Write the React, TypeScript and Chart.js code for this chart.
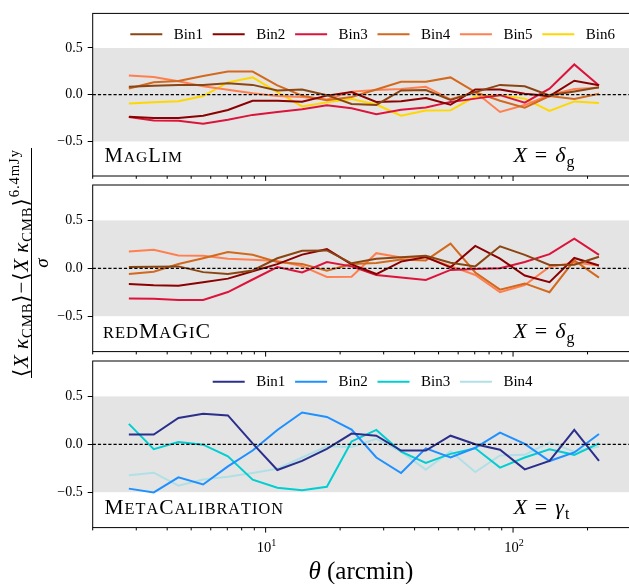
import React, { useEffect, useRef } from "react";
import { Chart, registerables } from "chart.js";

Chart.register(...registerables);

// ---------------- data ----------------
const THETA = [2.8, 3.53, 4.44, 5.59, 7.04, 8.86, 11.15, 14.04, 17.68, 22.25, 28.01, 35.27, 44.4, 55.89, 70.36, 88.58, 111.5, 140.4, 176.8, 222.5];

const X_TICKS = [2, 3, 4, 5, 6, 7, 8, 9, 10, 20, 30, 40, 50, 60, 70, 80, 90, 100, 200, 300];
const X_MAJOR = [10, 100];
const X_LABELS = [
  { value: 10, base: "10", exp: "1" },
  { value: 100, base: "10", exp: "2" },
];
const Y_TICKS = [-0.5, 0, 0.5];
const BAND = [-0.5, 0.5];

const MAGLIM_LABELS = ["Bin1", "Bin2", "Bin3", "Bin4", "Bin5", "Bin6"];
const MAGLIM_COLORS = ["#8B4513", "#8B0000", "#DC143C", "#D2691E", "#FF7F50", "#FFD700"];
const MAGLIM_BIN1 = [0.085, 0.095, 0.105, 0.105, 0.122, 0.105, 0.045, 0.056, -0.005, -0.1, -0.11, 0.045, 0.05, -0.055, 0.028, 0.105, 0.09, -0.007, 0.035, 0.08];
const MAGLIM_BIN2 = [-0.235, -0.25, -0.25, -0.225, -0.164, -0.065, -0.065, -0.075, -0.01, 0.028, -0.077, -0.07, -0.035, -0.108, 0.056, 0.056, 0.01, -0.015, 0.15, 0.1];
const MAGLIM_BIN3 = [-0.24, -0.277, -0.28, -0.31, -0.268, -0.216, -0.185, -0.155, -0.112, -0.146, -0.208, -0.162, -0.138, -0.077, -0.042, -0.005, -0.085, 0.065, 0.324, 0.098];
const MAGLIM_BIN4 = [0.066, 0.132, 0.146, 0.2, 0.247, 0.247, 0.1, -0.01, -0.059, -0.024, 0.055, 0.139, 0.139, 0.185, 0.028, -0.065, -0.139, -0.015, -0.045, 0.01];
const MAGLIM_BIN5 = [0.205, 0.19, 0.145, 0.09, 0.054, 0.015, -0.015, -0.025, -0.05, 0.033, 0.05, 0.06, 0.085, -0.049, 0.028, -0.185, -0.111, -0.004, 0.06, 0.075];
const MAGLIM_BIN6 = [-0.094, -0.08, -0.07, -0.015, 0.132, 0.185, 0.028, -0.125, -0.082, -0.045, -0.105, -0.225, -0.17, -0.167, -0.02, -0.007, -0.042, -0.174, -0.072, -0.09];

const REDMAGIC_LABELS = ["Bin1", "Bin2", "Bin3", "Bin4", "Bin5"];
const REDMAGIC_COLORS = ["#8B4513", "#8B0000", "#DC143C", "#D2691E", "#FF7F50"];
const REDMAGIC_BIN1 = [0.014, 0.015, 0.02, -0.04, -0.06, -0.023, 0.105, 0.183, 0.187, 0.052, 0.1, 0.115, 0.13, 0.058, 0.02, 0.23, 0.14, 0.035, 0.038, 0.12];
const REDMAGIC_BIN2 = [-0.165, -0.176, -0.181, -0.145, -0.108, -0.03, 0.044, 0.143, 0.2, 0.04, -0.06, 0.07, 0.118, 0.01, 0.234, 0.1, -0.075, -0.145, 0.108, 0.03];
const REDMAGIC_BIN3 = [-0.315, -0.317, -0.332, -0.331, -0.248, -0.117, 0.013, -0.044, 0.065, 0.02, -0.07, -0.095, -0.122, -0.017, -0.007, 0.0, 0.066, 0.148, 0.31, 0.14];
const REDMAGIC_BIN4 = [-0.06, -0.035, 0.044, 0.105, 0.17, 0.141, 0.066, 0.045, -0.025, 0.044, 0.056, 0.093, 0.082, 0.257, -0.044, -0.223, -0.158, -0.25, 0.082, -0.098];
const REDMAGIC_BIN5 = [0.175, 0.194, 0.133, 0.132, 0.1, 0.09, 0.075, 0.023, -0.09, -0.088, 0.158, 0.113, 0.113, 0.023, -0.07, -0.25, -0.175, 0.013, 0.06, 0.03];

const METACAL_LABELS = ["Bin1", "Bin2", "Bin3", "Bin4"];
const METACAL_COLORS = ["#2B2F8C", "#1E90FF", "#00CED1", "#B0E0E6"];
const METACAL_BIN1 = [0.102, 0.102, 0.275, 0.32, 0.302, 0.01, -0.268, -0.173, -0.048, 0.112, 0.09, -0.066, -0.066, 0.09, 0.0, -0.056, -0.262, -0.173, 0.15, -0.173];
const METACAL_BIN2 = [-0.463, -0.503, -0.345, -0.42, -0.231, -0.065, 0.15, 0.332, 0.286, 0.153, -0.138, -0.3, -0.042, -0.136, -0.036, 0.122, 0.005, -0.175, -0.085, 0.107];
const METACAL_BIN3 = [0.213, -0.051, 0.024, -0.004, -0.125, -0.37, -0.453, -0.48, -0.444, 0.03, 0.15, -0.077, -0.195, -0.1, -0.042, -0.243, -0.138, -0.052, -0.11, 0.01];
const METACAL_BIN4 = [-0.322, -0.297, -0.433, -0.367, -0.34, -0.3, -0.255, -0.138, -0.021, -0.028, 0.058, -0.076, -0.265, -0.073, -0.29, -0.117, -0.11, 0.021, -0.076, -0.024];

// ---------------- layout / style ----------------
const W = 640;
const H = 584;
const AREA_LEFT = 92.7;
const AREA_RIGHT = 631.1;
const X_MIN = 2;
const X_MAX = 300;
const Y_LIM = 0.87;
const SERIF = '"Liberation Serif", "DejaVu Serif", serif';
const BAND_COLOR = "#e4e4e4";

type Run = { t: string; s?: number; italic?: boolean; dy?: number };

const PANELS = [
  {
    key: "maglim",
    top: 9.4,
    bottom: 176.0,
    labels: MAGLIM_LABELS,
    colors: MAGLIM_COLORS,
    series: [MAGLIM_BIN1, MAGLIM_BIN2, MAGLIM_BIN3, MAGLIM_BIN4, MAGLIM_BIN5, MAGLIM_BIN6],
    legend: true,
    name: [
      { t: "M", s: 1 },
      { t: "AG", s: 0.76 },
      { t: "L", s: 1 },
      { t: "IM", s: 0.76 },
    ] as Run[],
    nameX: 104.5,
    nameW: 78.5,
    math: [
      { t: "X", italic: true },
      { t: " = " },
      { t: "δ", italic: true },
      { t: "g", s: 0.72, dy: 0.24 },
    ] as Run[],
    xAxisLabels: false,
    yTitle: false,
  },
  {
    key: "redmagic",
    top: 185.0,
    bottom: 351.6,
    labels: REDMAGIC_LABELS,
    colors: REDMAGIC_COLORS,
    series: [REDMAGIC_BIN1, REDMAGIC_BIN2, REDMAGIC_BIN3, REDMAGIC_BIN4, REDMAGIC_BIN5],
    legend: false,
    name: [
      { t: "RED", s: 0.76 },
      { t: "M", s: 1 },
      { t: "A", s: 0.76 },
      { t: "G", s: 1 },
      { t: "I", s: 0.76 },
      { t: "C", s: 1 },
    ] as Run[],
    nameX: 103,
    nameW: 108,
    math: [
      { t: "X", italic: true },
      { t: " = " },
      { t: "δ", italic: true },
      { t: "g", s: 0.72, dy: 0.24 },
    ] as Run[],
    xAxisLabels: false,
    yTitle: true,
  },
  {
    key: "metacal",
    top: 361.0,
    bottom: 527.6,
    labels: METACAL_LABELS,
    colors: METACAL_COLORS,
    series: [METACAL_BIN1, METACAL_BIN2, METACAL_BIN3, METACAL_BIN4],
    legend: true,
    name: [
      { t: "M", s: 1 },
      { t: "ETA", s: 0.76 },
      { t: "C", s: 1 },
      { t: "ALIBRATION", s: 0.76 },
    ] as Run[],
    nameX: 104.5,
    nameW: 176.5,
    math: [
      { t: "X", italic: true },
      { t: " = " },
      { t: "γ", italic: true },
      { t: "t", s: 0.72, dy: 0.24 },
    ] as Run[],
    xAxisLabels: true,
    yTitle: false,
  },
];

// ---------------- text helpers ----------------
function runFont(r: Run, base: number) {
  return `${r.italic ? "italic " : ""}${((r.s ?? 1) * base).toFixed(2)}px ${SERIF}`;
}
function runsWidth(ctx: CanvasRenderingContext2D, runs: Run[], base: number, ls = 0) {
  let w = 0;
  for (const r of runs) {
    ctx.font = runFont(r, base);
    w += ctx.measureText(r.t).width + [...r.t].length * ls;
  }
  return w;
}
function drawRuns(ctx: CanvasRenderingContext2D, runs: Run[], x: number, y: number, base: number, ls = 0) {
  let cx = x;
  (ctx as any).letterSpacing = "0px";
  for (const r of runs) {
    ctx.font = runFont(r, base);
    for (const ch of [...r.t]) {
      ctx.fillText(ch, cx, y + (r.dy ?? 0) * base);
      cx += ctx.measureText(ch).width + ls;
    }
  }
  return cx - x;
}
function fitBase(ctx: CanvasRenderingContext2D, runs: Run[], width: number, ls = 0) {
  const n = runs.reduce((a, r) => a + [...r.t].length, 0);
  const w100 = runsWidth(ctx, runs, 100);
  return ((width - n * ls) / w100) * 100;
}

const Y_TITLE_NUM: Run[] = [
  { t: "⟨" },
  { t: "X\u2009", italic: true },
  { t: "κ", italic: true },
  { t: "CMB", s: 0.7, dy: 0.2 },
  { t: "⟩" },
  { t: "−" },
  { t: "⟨" },
  { t: "X\u2009", italic: true },
  { t: "κ", italic: true },
  { t: "CMB", s: 0.7, dy: 0.2 },
  { t: "⟩" },
  { t: "6.4mJy", s: 0.7, dy: -0.45 },
];
const Y_TITLE_DEN: Run[] = [{ t: "σ", italic: true }];
const X_TITLE: Run[] = [{ t: "θ", italic: true }, { t: " (arcmin)" }];

function makePlugin(p: (typeof PANELS)[number]) {
  return {
    id: "panelDeco_" + p.key,
    beforeDatasetsDraw(chart: any) {
      const { ctx, chartArea: a, scales } = chart;
      const y = scales.y;
      const yTop = y.getPixelForValue(BAND[1]);
      const yBot = y.getPixelForValue(BAND[0]);
      ctx.save();
      ctx.fillStyle = BAND_COLOR;
      ctx.fillRect(a.left, yTop, a.right - a.left, yBot - yTop);
      ctx.restore();
    },
    afterDatasetsDraw(chart: any) {
      const { ctx, chartArea: a, scales } = chart;
      const x = scales.x;
      const y = scales.y;
      ctx.save();
      // zero line
      const yz = y.getPixelForValue(0);
      ctx.strokeStyle = "#000";
      ctx.lineWidth = 1.2;
      ctx.setLineDash([3.2, 2]);
      ctx.beginPath();
      ctx.moveTo(a.left, yz);
      ctx.lineTo(a.right, yz);
      ctx.stroke();
      ctx.setLineDash([]);
      // frame
      ctx.lineWidth = 1;
      ctx.strokeRect(a.left, a.top, a.right - a.left, a.bottom - a.top);
      // x tick marks
      for (const v of X_TICKS) {
        const px = x.getPixelForValue(v);
        const len = X_MAJOR.includes(v) ? 5 : 2.8;
        ctx.beginPath();
        ctx.moveTo(px, a.bottom);
        ctx.lineTo(px, a.bottom + len);
        ctx.stroke();
      }
      ctx.fillStyle = "#000";
      ctx.textBaseline = "alphabetic";
      ctx.textAlign = "left";
      // legend
      if (p.legend) {
        const n = p.labels.length;
        const step = 82.4;
        const start = 377.5 - 41.2 * n;
        const cy = a.top + 20.8;
        for (let i = 0; i < n; i++) {
          const x0 = start + i * step;
          ctx.strokeStyle = p.colors[i];
          ctx.lineWidth = 2;
          ctx.beginPath();
          ctx.moveTo(x0, cy);
          ctx.lineTo(x0 + 32, cy);
          ctx.stroke();
          ctx.font = `15px ${SERIF}`;
          ctx.textBaseline = "middle";
          ctx.fillText(p.labels[i], x0 + 43.5, cy + 0.5);
        }
        ctx.textBaseline = "alphabetic";
      }
      // panel name (small caps)
      const nb = a.bottom - 14;
      const ls = 1;
      const nameBase = fitBase(ctx, p.name, p.nameW, ls);
      drawRuns(ctx, p.name, p.nameX, nb, nameBase, ls);
      // math label
      const mls = 1.2;
      const mathBase = Math.min(22, fitBase(ctx, p.math, 65.5, mls));
      drawRuns(ctx, p.math, 513.5, nb, mathBase, mls);
      // x tick labels + title
      if (p.xAxisLabels) {
        for (const lab of X_LABELS) {
          const px = x.getPixelForValue(lab.value);
          const runs: Run[] = [{ t: lab.base }, { t: lab.exp, s: 0.7, dy: -0.42 }];
          const w = runsWidth(ctx, runs, 14.5);
          drawRuns(ctx, runs, px - w / 2 + 1, a.bottom + 24, 14.5);
        }
        const tb = fitBase(ctx, X_TITLE, 105);
        const tw = runsWidth(ctx, X_TITLE, tb);
        drawRuns(ctx, X_TITLE, (a.left + a.right) / 2 - tw / 2 - 1, 578.5, tb);
      }
      // y title (fraction), drawn once
      if (p.yTitle) {
        const cy = 263;
        const yls = 0.9;
        const nbase = fitBase(ctx, Y_TITLE_NUM, 228, yls);
        const nw = runsWidth(ctx, Y_TITLE_NUM, nbase, yls);
        ctx.save();
        ctx.translate(28, cy);
        ctx.rotate(-Math.PI / 2);
        drawRuns(ctx, Y_TITLE_NUM, -nw / 2, 0, nbase, yls);
        ctx.restore();
        ctx.save();
        const dw = runsWidth(ctx, Y_TITLE_DEN, 19);
        ctx.translate(47.5, cy);
        ctx.rotate(-Math.PI / 2);
        drawRuns(ctx, Y_TITLE_DEN, -dw / 2, 0, 19);
        ctx.restore();
        ctx.strokeStyle = "#000";
        ctx.lineWidth = 1;
        ctx.beginPath();
        ctx.moveTo(31.5, cy - nw / 2 - 1);
        ctx.lineTo(31.5, cy + nw / 2 + 1);
        ctx.stroke();
      }
      ctx.restore();
    },
  };
}

function buildConfig(p: (typeof PANELS)[number]): any {
  return {
    type: "line",
    data: {
      datasets: p.series.map((vals, j) => ({
        label: p.labels[j],
        data: THETA.map((t, i) => ({ x: t, y: vals[i] })),
        borderColor: p.colors[j],
        backgroundColor: p.colors[j],
        borderWidth: 2,
        pointRadius: 0,
        fill: false,
        tension: 0,
      })),
    },
    options: {
      responsive: false,
      animation: false,
      devicePixelRatio: 1,
      events: [],
      layout: {
        padding: { left: 0, right: W - AREA_RIGHT, top: p.top, bottom: H - p.bottom },
      },
      scales: {
        x: {
          type: "logarithmic",
          min: X_MIN,
          max: X_MAX,
          afterBuildTicks: (s: any) => {
            s.ticks = X_TICKS.map((v) => ({ value: v, major: X_MAJOR.includes(v) }));
          },
          afterFit: (s: any) => {
            s.height = 0;
          },
          ticks: { display: false },
          grid: { display: false, drawTicks: false },
          border: { display: false },
        },
        y: {
          type: "linear",
          min: -Y_LIM,
          max: Y_LIM,
          afterBuildTicks: (s: any) => {
            s.ticks = Y_TICKS.map((v) => ({ value: v }));
          },
          afterFit: (s: any) => {
            s.width = AREA_LEFT;
          },
          ticks: {
            color: "#000",
            font: { family: SERIF, size: 14 },
            padding: 5,
            callback: (v: number) => (v < 0 ? "−" : "") + Math.abs(v).toFixed(1),
          },
          grid: {
            drawOnChartArea: false,
            drawTicks: true,
            tickLength: 5,
            tickColor: "#000",
            tickWidth: 1,
          },
          border: { display: false },
        },
      },
      plugins: {
        legend: { display: false },
        tooltip: { enabled: false },
        title: { display: false },
      },
    },
    plugins: [makePlugin(p)],
  };
}

export default function App() {
  const r0 = useRef<HTMLCanvasElement | null>(null);
  const r1 = useRef<HTMLCanvasElement | null>(null);
  const r2 = useRef<HTMLCanvasElement | null>(null);
  const refs = [r0, r1, r2];
  useEffect(() => {
    const charts = PANELS.map((p, k) => new Chart(refs[k].current as HTMLCanvasElement, buildConfig(p)));
    return () => charts.forEach((c) => c.destroy());
  }, []);
  return (
    <div
      style={{
        position: "fixed",
        left: 0,
        top: 0,
        width: 629,
        height: 584,
        overflow: "hidden",
        background: "#fff",
      }}
    >
      {PANELS.map((p, k) => (
        <canvas
          key={p.key}
          ref={refs[k]}
          width={W}
          height={H}
          style={{ position: "absolute", left: 0, top: 0, width: W, height: H }}
        />
      ))}
    </div>
  );
}
